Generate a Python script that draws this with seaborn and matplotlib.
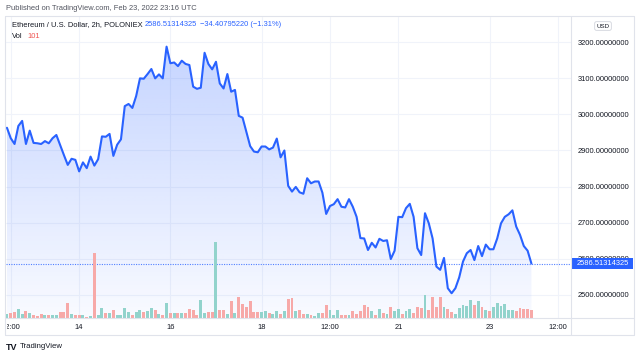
import numpy as np
import pandas as pd
import matplotlib
matplotlib.use("Agg")
import matplotlib.pyplot as plt
import matplotlib.dates as mdates
from matplotlib.colors import to_rgb
from matplotlib.lines import Line2D
from matplotlib.patches import Rectangle
from matplotlib.transforms import Bbox, blended_transform_factory
import seaborn as sns

# ---- values (ETH/USD, 2h bars, POLONIEX) ----
START = "2022-02-12 10:00"

close_prices = [
    2963, 2934, 2918, 2968, 2982, 2918, 2955, 2921, 2920, 2918,
    2926, 2920, 2934, 2943, 2915, 2887, 2860, 2877, 2874, 2842,
    2867, 2851, 2883, 2858, 2876, 2939, 2938, 2946, 2885, 2916,
    2931, 3023, 3029, 3018, 3051, 3100, 3099, 3112, 3126, 3100,
    3111, 3100, 3188, 3142, 3144, 3134, 3149, 3140, 3137, 3077,
    3071, 3074, 3171, 3140, 3125, 3146, 3086, 3072, 3112, 3063,
    3068, 2996, 2991, 2952, 2912, 2897, 2895, 2911, 2911, 2903,
    2908, 2933, 2881, 2900, 2802, 2786, 2799, 2784, 2780, 2823,
    2809, 2814, 2814, 2783, 2724, 2746, 2751, 2765, 2744, 2742,
    2765, 2744, 2716, 2657, 2656, 2624, 2644, 2631, 2655, 2649,
    2651, 2599, 2622, 2716, 2715, 2740, 2752, 2716, 2629, 2610,
    2726, 2698, 2656, 2578, 2569, 2602, 2518, 2504, 2518, 2548,
    2592, 2615, 2624, 2596, 2635, 2607, 2639, 2626, 2626, 2656,
    2698, 2716, 2723, 2734, 2689, 2666, 2635, 2622, 2586.51314325,
]

volumes = [
    54, 59, 75, 112, 50, 91, 66, 41, 29, 54,
    34, 34, 34, 34, 75, 79, 188, 50, 41, 41,
    41, 16, 29, 816, 34, 129, 59, 59, 100, 41,
    41, 121, 75, 34, 79, 104, 75, 91, 129, 100,
    50, 34, 188, 59, 59, 66, 59, 59, 116, 104,
    34, 225, 59, 79, 79, 946, 100, 100, 50, 209,
    66, 262, 179, 138, 216, 75, 75, 71, 91, 59,
    54, 91, 50, 84, 234, 250, 91, 100, 54, 50,
    41, 29, 66, 66, 166, 100, 41, 100, 34, 34,
    41, 91, 50, 91, 166, 134, 84, 41, 116, 66,
    50, 141, 91, 116, 50, 91, 116, 66, 141, 125,
    291, 100, 266, 134, 266, 141, 116, 75, 50, 125,
    166, 150, 225, 159, 216, 141, 100, 84, 134, 184,
    150, 175, 100, 100, 84, 125, 116, 109, 101,
]

price_ticks = [2500, 2600, 2700, 2800, 2900, 3000, 3100, 3200]
time_ticks = ["2022-02-12 12:00", "2022-02-14 00:00", "2022-02-16 00:00", "2022-02-18 00:00",
              "2022-02-19 12:00", "2022-02-21 00:00", "2022-02-23 00:00", "2022-02-24 12:00"]
time_labels = ["12:00", "14", "16", "18", "12:00", "21", "23", "12:00"]

symbol_title = "Ethereum / U.S. Dollar, 2h, POLONIEX"
last_price = "2586.51314325"
change_text = "\u221234.40795220 (\u22121.31%)"
last_vol = "101"

# ---- style ----
LINE = "#2962ff"
UP = "#92d3cc"
DOWN = "#f7a9a8"
GRID = "#f0f3fa"
BORDER = "#e0e3eb"
TXT = "#131722"
FS = 5.4

sns.set_style("white")
plt.rcParams["font.family"] = ["Liberation Sans", "DejaVu Sans"]

W, H = 640, 358
fig = plt.figure(figsize=(W / 100, H / 100), dpi=100)

# pane in pixel coords: x 6..571, y 17..318
L, R, T, B = 6, 571, 17, 318
ax = fig.add_axes([L / W, 1 - B / H, (R - L) / W, (B - T) / H])
ax2 = ax.twinx()   # volume scale (twinx resets ax ticks, so set them after)

df = pd.DataFrame({
    "time": pd.date_range(START, periods=len(close_prices), freq="2h"),
    "close": close_prices,
    "volume": volumes,
})
df["up"] = df["close"].diff().fillna(0) >= 0

ylo, yhi = 2435.4, 3270.2
xnum = mdates.date2num(df["time"])
xlo = mdates.date2num(pd.Timestamp("2022-02-12 09:30"))
xhi = mdates.date2num(pd.Timestamp("2022-02-24 18:50"))

# gradient area under the line
fill = ax.fill_between(xnum, df["close"], ylo, color="none", lw=0)
rgba = np.zeros((256, 1, 4))
rgba[..., :3] = to_rgb(LINE)
rgba[..., 3] = np.linspace(0.27, 0.03, 256).reshape(-1, 1)
im = ax.imshow(rgba, aspect="auto", origin="upper", zorder=1,
               extent=[xnum[0], xnum[-1], ylo, df["close"].max()])
im.set_clip_path(fill.get_paths()[0], transform=ax.transData)

sns.lineplot(x=xnum, y=df["close"], ax=ax, color=LINE, lw=1.5, zorder=4)

ax.axhline(df["close"].iloc[-1], color=LINE, lw=0.8, ls=(0, (1, 1.2)), alpha=0.8, zorder=3)

ax.set_xlim(xlo, xhi)
ax.set_ylim(ylo, yhi)

tick_nums = mdates.date2num(pd.to_datetime(time_ticks, format="%Y-%m-%d %H:%M"))
ax.set_xticks(tick_nums)
ax.set_xticklabels(time_labels)
ax.yaxis.tick_right()
ax.set_yticks(price_ticks)
ax.set_yticklabels([f"{v:.8f}" for v in price_ticks])
ax.tick_params(axis="both", length=0, labelsize=FS, colors=TXT)
ax.tick_params(axis="y", pad=4.5)
ax.tick_params(axis="x", pad=4)
ax.grid(True, color=GRID, lw=0.8)
ax.set_axisbelow(True)
ax.set_xlabel("")
ax.set_ylabel("")
for s in ax.spines.values():
    s.set_visible(False)

# first time label is cut by the pane edge in the original
clip = Bbox.from_extents(L + 0.5, 0, W, H)
for lab in ax.get_xticklabels():
    lab.set_clip_box(clip)
    lab.set_clip_on(True)

# volume bars
ax2.bar(xnum, df["volume"], width=2 / 24 * 0.78,
        color=[UP if u else DOWN for u in df["up"]], lw=0, zorder=2)
ax2.set_ylim(0, 301 * 12.5)
ax2.set_xlim(xlo, xhi)
ax2.set_yticks([])
for s in ax2.spines.values():
    s.set_visible(False)

# last price label on the price scale
last = df["close"].iloc[-1]
tr = blended_transform_factory(fig.transFigure, ax.transData)
box_h = 11 / ((B - T) / (yhi - ylo))
ax2.add_patch(Rectangle((R / W, last - box_h / 2), 62 / W, box_h, transform=tr,
                        fc=LINE, ec="none", clip_on=False, zorder=9))
ax2.text(577 / W, last, last_price, transform=tr, ha="left", va="center",
         fontsize=FS, color="white", clip_on=False, zorder=10)

# widget frame
def px_line(x0, y0, x1, y1):
    fig.add_artist(Line2D([x0 / W, x1 / W], [1 - y0 / H, 1 - y1 / H], color=BORDER, lw=0.8))

px_line(5, 16, 634, 16)
px_line(5, 335, 634, 335)
px_line(5, 16, 5, 335)
px_line(634, 16, 634, 335)
px_line(R, 16, R, 335)
px_line(5, B, 634, B)

# header texts
fig.text(6 / W, 1 - 8 / H, "Published on TradingView.com, Feb 23, 2022 23:16 UTC",
         fontsize=5.4, color="#50535e", va="center", ha="left")
fig.text(12 / W, 1 - 25 / H, symbol_title, fontsize=FS, color=TXT, va="center")
fig.text(145 / W, 1 - 25 / H, last_price, fontsize=FS, color=LINE, va="center")
fig.text(200 / W, 1 - 25 / H, change_text, fontsize=FS, color=LINE, va="center")
fig.text(12 / W, 1 - 37 / H, "Vol", fontsize=FS, color=TXT, va="center")
fig.text(27 / W, 1 - 37 / H, last_vol, fontsize=FS, color="#ef5350", va="center")
fig.text(603 / W, 1 - 26 / H, "USD", fontsize=4.4, color=TXT, va="center", ha="center",
         bbox=dict(boxstyle="round,pad=0.3", fc="white", ec="#d1d4dc", lw=0.6))

# footer logo
fig.text(6 / W, 1 - 347 / H, "TV", fontsize=6.5, fontweight="bold", color=TXT, va="center")
fig.text(20 / W, 1 - 347 / H, "TradingView", fontsize=5.6, color=TXT, va="center")

fig.savefig("out.png", dpi=100)
